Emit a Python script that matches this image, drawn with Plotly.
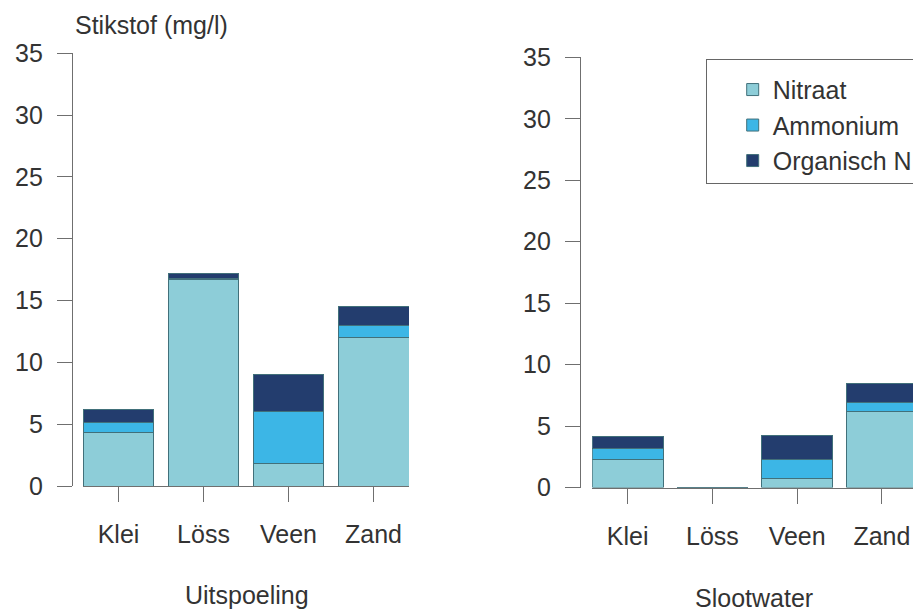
import plotly.graph_objects as go

# ---- data ----
categories = ["Klei", "Löss", "Veen", "Zand"]
series_names = ["Nitraat", "Ammonium", "Organisch N"]

uitspoeling_nitraat = [4.3, 16.7, 1.8, 12.0]
uitspoeling_ammonium = [0.85, 0.1, 4.2, 0.95]
uitspoeling_organisch = [1.05, 0.4, 3.0, 1.6]

slootwater_nitraat = [2.3, 0.0, 0.75, 6.15]
slootwater_ammonium = [0.85, 0.0, 1.55, 0.8]
slootwater_organisch = [1.0, 0.0, 1.95, 1.55]

y_ticks = [0, 5, 10, 15, 20, 25, 30, 35]
panel_titles = ["Uitspoeling", "Slootwater"]
y_title = "Stikstof (mg/l)"

# ---- styling ----
# page body has an 8px margin; figure sized so it ends at the window edge
OFF = 8
W, H = 921 - OFF, 612 - OFF


def px(x):
    return (x - OFF) / W


def py(y):
    return 1 - (y - OFF) / H


colors = ["#8dcdd8", "#3cb6e6", "#233d6e"]
outline = "#41707a"
axis_col = "#6f6f6f"
text_col = "#333333"
FONT = "Liberation Sans, Arial, sans-serif"
FS = 25

fig = go.Figure()

left_series = [uitspoeling_nitraat, uitspoeling_ammonium, uitspoeling_organisch]
right_series = [slootwater_nitraat, slootwater_ammonium, slootwater_organisch]

for name, vals, col in zip(series_names, left_series, colors):
    fig.add_trace(go.Bar(
        x=categories, y=vals, name=name, xaxis="x", yaxis="y",
        marker=dict(color=col, line=dict(color=outline, width=1)),
        showlegend=True,
    ))
for name, vals, col in zip(series_names, right_series, colors):
    fig.add_trace(go.Bar(
        x=categories, y=vals, name=name, xaxis="x2", yaxis="y2",
        marker=dict(color=col, line=dict(color=outline, width=1)),
        showlegend=False,
    ))

bw = 0.835  # bar width fraction of category spacing
xr = [-bw / 2, 3 + bw / 2]


def xaxis_cfg(domain, anchor):
    return dict(
        type="category", domain=domain, anchor=anchor, range=xr,
        showline=True, linecolor=axis_col, linewidth=1.2,
        ticks="outside", ticklen=15, tickcolor=axis_col, tickwidth=1.2,
        showgrid=False, zeroline=False,
        tickfont=dict(family=FONT, size=FS, color=text_col),
        ticklabelstandoff=11, fixedrange=True,
    )


def yaxis_cfg(domain, pos):
    return dict(
        domain=domain, anchor="free", position=pos, range=[0, 35],
        tickvals=y_ticks, showline=True, linecolor=axis_col, linewidth=1.2,
        ticks="outside", ticklen=15, tickcolor=axis_col, tickwidth=1.2,
        showgrid=False, zeroline=False,
        tickfont=dict(family=FONT, size=FS, color=text_col),
        ticklabelstandoff=9, fixedrange=True,
    )


fig.update_layout(
    width=W, height=H,
    margin=dict(l=0, r=0, t=0, b=0, pad=0, autoexpand=False),
    paper_bgcolor="white", plot_bgcolor="white",
    barmode="stack", bargap=1 - bw,
    xaxis=xaxis_cfg([px(83), px(409)], "y"),
    yaxis=yaxis_cfg([py(486), py(53.3)], px(72)),
    xaxis2=xaxis_cfg([px(592.3), px(917.3)], "y2"),
    yaxis2=yaxis_cfg([py(487.5), py(57.3)], px(580)),
    legend=dict(
        x=px(705.7), y=py(59.3), xanchor="left", yanchor="top",
        bordercolor="#666666", borderwidth=1, bgcolor="white",
        font=dict(family=FONT, size=25, color=text_col),
        traceorder="normal", indentation=26, tracegroupgap=0,
        title=dict(text=" ", font=dict(size=5)),
    ),
    annotations=[
        dict(text=y_title, xref="paper", yref="paper", x=px(73), y=py(25),
             xanchor="left", yanchor="middle", showarrow=False,
             font=dict(family=FONT, size=FS, color=text_col)),
        dict(text=panel_titles[0], xref="paper", yref="paper", x=px(247), y=py(595),
             xanchor="center", yanchor="middle", showarrow=False,
             font=dict(family=FONT, size=FS, color=text_col)),
        dict(text=panel_titles[1], xref="paper", yref="paper", x=px(754), y=py(598),
             xanchor="center", yanchor="middle", showarrow=False,
             font=dict(family=FONT, size=FS, color=text_col)),
    ],
)

fig.write_html("out.html")
